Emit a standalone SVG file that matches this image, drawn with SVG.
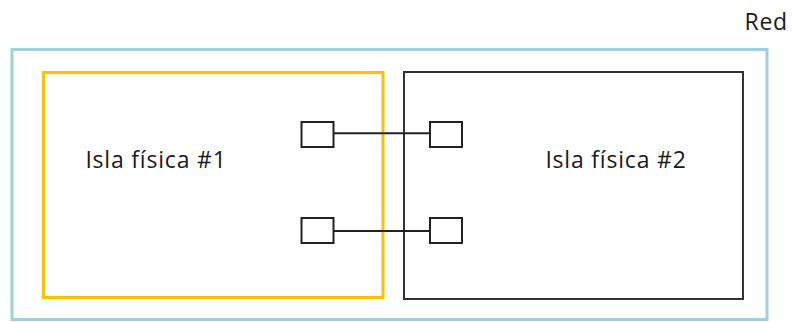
<svg xmlns="http://www.w3.org/2000/svg" width="792" height="322" viewBox="0 0 792 322">
<style>
text{font-family:"Open Sans","Noto Sans","Liberation Sans",sans-serif;font-size:23px;letter-spacing:0.8px;fill:#1a1a1a}
.port{fill:#fff;stroke:#222;stroke-width:2}
.link{stroke:#222;stroke-width:2}
</style>
<rect width="792" height="322" fill="#fff"/>
<g id="red">
<rect x="12" y="49.5" width="755" height="270" fill="none" stroke="#9fd0dc" stroke-width="3"/>
<text x="788" y="30" text-anchor="end">Red</text>
</g>
<g id="isla1">
<rect x="43.5" y="72.5" width="339.5" height="225" fill="none" stroke="#ffc000" stroke-width="3"/>
<text x="156" y="168" text-anchor="middle">Isla física #1</text>
</g>
<g id="isla2">
<rect x="404" y="72" width="339" height="227" fill="none" stroke="#333" stroke-width="2"/>
<text x="616" y="168" text-anchor="middle">Isla física #2</text>
</g>
<g id="connectors">
<line class="link" x1="334" y1="133.3" x2="430" y2="133.3"/>
<line class="link" x1="334" y1="231" x2="430" y2="231"/>
</g>
<g id="port1a"><rect class="port" x="301.5" y="122" width="32" height="25"/></g>
<g id="port1b"><rect class="port" x="301.5" y="218" width="32" height="25"/></g>
<g id="port2a"><rect class="port" x="430" y="122" width="32" height="25"/></g>
<g id="port2b"><rect class="port" x="430" y="218" width="32" height="25"/></g>
</svg>
